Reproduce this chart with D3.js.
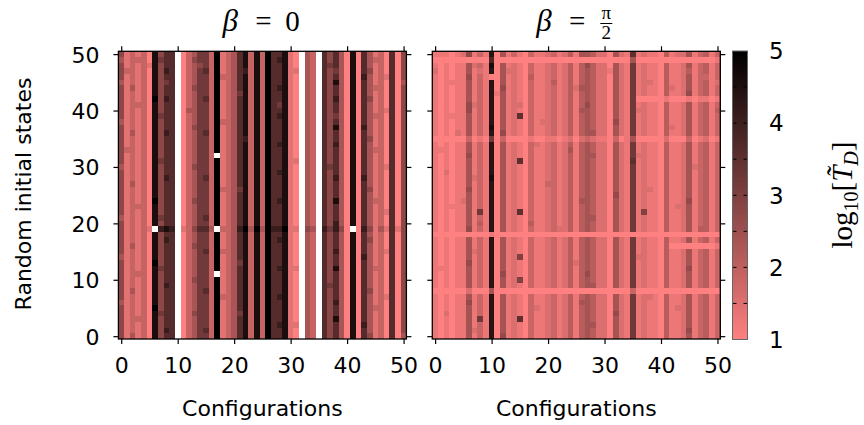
<!DOCTYPE html>
<html><head><meta charset="utf-8">
<script src="https://cdn.jsdelivr.net/npm/d3@7"></script>
<style>body{margin:0;background:#fff}svg{display:block}</style>
</head><body>
<script>
// ---------------- data ----------------
const configurations = d3.range(51);          // x categories 0..50
const initialStates = d3.range(51);           // y categories 0..50
const xTickValues = [0, 10, 20, 30, 40, 50];
const yTickValues = [0, 10, 20, 30, 40, 50];
const colorbarTicks = [1, 2, 3, 4, 5];
const panelTitles = ["0", "pi/2"];
// each char = level d (base 17 digit) -> log10 value 1 + d*step ; '.' = no value (white)
// rows listed from state 50 (top) down to state 0 (bottom); columns are configurations 0..50
const betaZeroStep = 4 / 9;
const betaZeroRows = [
"4121208466 .023552912 3682829668 10.32.6463 0806312060 4",
"3122208566 .024552912 3682829678 10.32.6463 0806322060 4",
"4121218466 .023452912 3682829668 10.32.6563 0806312060 4",
"4221208476 .023562912 3672829668 11.32.6453 0806412060 4",
"4121208466 .023552922 3682829668 10.32.6463 0807312160 4",
"3121208456 .023552912 3682829668 10.32.6483 0806312060 3",
"4131208466 .024552912 3682829678 10.32.6463 0806322060 4",
"4121208466 .023552912 3582829668 10.32.6463 0806312060 4",
"4121209476 .023562912 3682829668 10.32.6473 0806412060 4",
"4122208466 .023552912 3682829658 10.32.6463 0806312060 4",
"4121208466 .033552912 3682829668 10.32.6463 0806312160 4",
"4121208566 .023552912 3682829678 10.32.6453 0806322060 4",
"3121208466 .023552922 3682829668 10.32.6463 0806312060 4",
"4121208466 .024552912 3682829668 10.32.6483 0807312060 4",
"4131208476 .023562912 3682829668 10.32.6463 0806312060 4",
"4121208466 .023552912 3672829668 10.32.6463 0806412060 4",
"4121208466 .023552912 3682829678 10.32.6473 0806312060 4",
"4221208466 .023552912 3682829668 10.32.6463 0806322060 4",
"4121208466 .023552.12 3682829668 10.32.6463 0806312060 4",
"4121208566 .023552912 3682829668 11.32.6463 0806312060 4",
"3121208466 .024552912 3682829668 10.32.6563 0806312160 4",
"4121208466 .023552912 3682829678 10.32.6463 0806312060 4",
"4121208476 .023562912 3682829668 10.32.6473 0807312060 4",
"4131208466 .023552912 3682829668 10.32.6463 0806312060 4",
"4121208466 .023552922 3582829668 10.32.6463 0806412060 4",
"4121208466 .023552912 3682829668 10.32.6463 0806312060 4",
"4121209466 .024552912 3682829678 10.32.6483 0806322060 4",
"4122208466 .023552912 3682829668 10.32.6463 0806312060 4",
"4121208466 .023552912 3682829668 10.32.6463 0806312160 4",
"3121208566 .023562912 3682829668 10.32.6463 0806312060 4",
"4121208466 .023552912 3682829668 10.32.6473 0806312060 4",
"412121.787 .124663.22 3793939779 11.43.7574 0.07413161 4",
"4121208466 .023552912 3682829668 10.32.6463 0806312060 4",
"4121208476 .023552912 3682829678 10.32.6463 0806412060 4",
"4131208466 .024552912 3682829668 10.32.6463 0806312060 4",
"4121208466 .023562922 3682829668 10.32.6473 0806312160 4",
"3121208466 .023552912 3682829668 10.32.6463 0807312060 4",
"4121209466 .023552912 3582829668 10.32.6463 0806312060 4",
"4121208566 .023552912 3682829678 11.32.6483 0806322060 4",
"4122208466 .023552.12 3682829668 10.32.6463 0806312060 4",
"4121208466 .024552912 3682829668 10.32.6463 0806312060 4",
"4121208476 .023552912 3682829668 10.32.6563 0806312060 4",
"4131208466 .023562912 3682829668 10.32.6463 0806412060 4",
"4121208466 .023552922 3682829678 10.32.6463 0806312160 4",
"3121208466 .023552912 3682829668 10.32.6473 0806312060 4",
"4121209466 .023552912 3682829668 10.32.6463 0806322060 4",
"4121208566 .024552912 3582829668 10.32.6463 0806312060 4",
"4122208466 .023552912 3682829668 10.32.6483 0806312060 4",
"4121208466 .023552912 3682829678 11.32.6463 0807312060 4",
"4121208476 .023562912 3682829668 10.32.6463 0806312060 4",
"4131208466 .023552912 3682829668 10.32.6463 0806412060 3"
];
const betaHalfPiStep = 0.28;
const betaHalfPiRows = [
"1110126131 c051310311 2312415542 2052191211 0412251341 3",
"0000000000 a000000000 0000000000 0000050000 0000000000 1",
"1010115231 d051210311 2312414642 2052181211 0411251341 3",
"2010115121 c052210311 2312414542 2152181211 0411241341 3",
"1010116131 0051210411 2312414542 2052181211 0411251331 3",
"1011115131 c051210311 2412414542 2052181221 0411251341 2",
"1010115131 c061210311 2312425542 2052181211 0421251341 3",
"1010115131 c151210311 2312414542 2052181211 0411261341 3",
"1010115131 c051210311 2312414542 2052180000 0100010110 1",
"1010116231 c051220311 2312414642 2052181211 0411251341 3",
"1010116131 c051210311 2312415542 2052182211 0411251341 4",
"1011115131 c051290311 2312414542 2052181211 0411251341 3",
"1010115131 c051210312 2312414542 2062181211 0411251341 3",
"1010115131 d051210311 2312414542 2052181211 0421251341 3",
"1010215131 c061210311 2312414552 2052181211 0411251341 3",
"0000003010 8030000100 1101202321 1030150000 0200030120 1",
"1010115131 c051210321 2312414542 2052181211 0411251341 3",
"1110115131 c051210311 2312514542 2052181211 0411251341 3",
"1010116131 c051210311 2312414552 2052182211 0411251341 3",
"1010115131 c051290311 2312414542 2052191211 0411251341 3",
"1010115131 c051210311 2312414542 2052181211 0411252341 3",
"1020115131 c051210311 2312414542 2052181211 0411251341 3",
"1010115231 d051210311 2312414542 2052181211 0411251341 3",
"1010115131 c051210311 3312414542 2052181211 0411251341 3",
"1010116131 c051210311 2312414542 2052181221 0411251341 3",
"1010115131 c051210311 2312414542 2062181211 0411251341 3",
"1010125131 c051210311 2312415542 2052181211 0411261341 3",
"1011115131 c051210311 2312414542 2052181211 0412251341 3",
"1010115181 c051290311 2312414542 2052181711 0411251341 3",
"1010115131 c051210311 2312414552 2052181211 0411251341 3",
"1010115141 c051210411 2312414542 2052181211 0411251341 3",
"1010116131 c051210311 2322414542 2052181211 0411251441 3",
"0000000000 1000000000 0000000000 0000000000 0000000000 0",
"1010115131 c051210311 2312414542 2052181211 0411251341 3",
"1010115131 c051210311 2312414542 2052181211 0400000000 1",
"1010115231 c051210311 2312414542 2052181211 0411251341 3",
"1010115131 c051270311 2312414542 2052182211 0411251341 3",
"1010116131 c051210311 2312424542 2052181211 0411251341 3",
"1110115131 c051210311 2312414542 2052181211 0411261341 3",
"1010115131 c061210311 2312414642 2052181211 0411251341 3",
"1010115131 c051270311 2312414542 2052181211 0411251341 3",
"1010115131 c051210311 2312414552 2052181211 0411251341 3",
"0000002000 5000000000 0000000000 0000030000 0000000000 0",
"1010115131 c051210311 2312414542 2052181221 0411251341 3",
"1010116131 c051210311 2312415542 2052181211 0411251341 3",
"1010115131 c051210321 2312414542 2052181211 0412251341 3",
"1020115131 c051210311 2312414542 2062181211 0411251341 3",
"1010115181 c051290311 2312414542 2052181211 0411251341 3",
"1010115131 c051210311 2312414552 2052181211 0411251341 3",
"1010115231 c051210311 2312414542 2052181211 0411261341 3",
"1010115131 c061210311 2312414542 2052181211 0411251341 3"
];

// ---------------- drawing ----------------
(function () {
function parseGrid(rows, step) {
  const cells = [];
  rows.forEach((s, i) => {
    const chars = s.replace(/ /g, "").split("");
    const state = initialStates[initialStates.length - 1 - i];
    chars.forEach((ch, j) => {
      cells.push({conf: configurations[j], state: state,
                  v: ch === "." ? NaN : 1 + parseInt(ch, 17) * step});
    });
  });
  return cells;
}

const W = 864, H = 425;
const svg = d3.select("body").append("svg").attr("width", W).attr("height", H)
  .attr("font-family", "'DejaVu Sans', sans-serif");

const color = d3.scaleLinear().domain([1, 5]).range(["#ff8080", "#000000"])
  .interpolate(d3.interpolateRgb).clamp(true);

const plotTop = 51.3, plotBottom = 339;
const panels = [
  {x0: 118.4, x1: 406.4, rows: betaZeroRows, step: betaZeroStep, yLabels: true, title: panelTitles[0]},
  {x0: 432.3, x1: 720.3, rows: betaHalfPiRows, step: betaHalfPiStep, yLabels: false, title: panelTitles[1]}
];
const yScale = d3.scaleLinear().domain([-0.5, 50.5]).range([plotBottom, plotTop]);

panels.forEach(p => {
  const xScale = d3.scaleLinear().domain([-0.5, 50.5]).range([p.x0, p.x1]);
  const g = svg.append("g");
  const cells = parseGrid(p.rows, p.step);
  g.append("g").attr("shape-rendering", "crispEdges").selectAll("rect").data(cells).join("rect")
    .attr("x", d => xScale(d.conf - 0.5))
    .attr("y", d => yScale(d.state + 0.5))
    .attr("width", d => xScale(d.conf + 0.5) - xScale(d.conf - 0.5) + 0.4)
    .attr("height", d => yScale(d.state - 0.5) - yScale(d.state + 0.5) + 0.4)
    .attr("fill", d => isNaN(d.v) ? "#ffffff" : color(d.v));

  const tickLen = 5;
  const axB = g.append("g").attr("transform", `translate(0,${plotBottom})`)
    .call(d3.axisBottom(xScale).tickValues(xTickValues).tickSize(tickLen).tickSizeOuter(0).tickPadding(11));
  const axT = g.append("g").attr("transform", `translate(0,${plotTop})`)
    .call(d3.axisTop(xScale).tickValues(xTickValues).tickSize(tickLen).tickSizeOuter(0).tickFormat(""));
  const axL = g.append("g").attr("transform", `translate(${p.x0},0)`)
    .call(d3.axisLeft(yScale).tickValues(yTickValues).tickSize(tickLen).tickSizeOuter(0).tickPadding(14)
      .tickFormat(p.yLabels ? d3.format("d") : ""));
  const axR = g.append("g").attr("transform", `translate(${p.x1},0)`)
    .call(d3.axisRight(yScale).tickValues(yTickValues).tickSize(tickLen).tickSizeOuter(0).tickFormat(""));
  [axB, axT, axL, axR].forEach(a => {
    a.select(".domain").remove();
    a.selectAll("line").attr("stroke", "#000").attr("stroke-width", 1.2);
    a.selectAll("text").attr("font-size", 22).attr("font-family", "'DejaVu Sans', sans-serif").attr("fill", "#000");
  });
  axB.selectAll("text").attr("dy", "0.8em");
  axL.selectAll("text").attr("dy", "0.36em");

  g.append("rect").attr("x", p.x0).attr("y", plotTop).attr("width", p.x1 - p.x0).attr("height", plotBottom - plotTop)
    .attr("fill", "none").attr("stroke", "#000").attr("stroke-width", 1.3);

  g.append("text").attr("x", (p.x0 + p.x1) / 2).attr("y", 416).attr("text-anchor", "middle")
    .attr("font-size", 22).text("Configurations");

  const cx = (p.x0 + p.x1) / 2;
  const t = svg.append("g").attr("font-family", "'Liberation Serif', 'DejaVu Serif', serif").attr("fill", "#000");
  if (p.title === "0") {
    t.append("text").attr("x", cx - 40).attr("y", 31).attr("font-size", 31).attr("font-style", "italic").text("β");
    t.append("text").attr("x", cx + 1).attr("y", 31).attr("font-size", 29).attr("text-anchor", "middle").text("=");
    t.append("text").attr("x", cx + 30).attr("y", 31).attr("font-size", 29).attr("text-anchor", "middle").text("0");
  } else {
    t.append("text").attr("x", cx - 40).attr("y", 31).attr("font-size", 31).attr("font-style", "italic").text("β");
    t.append("text").attr("x", cx + 1).attr("y", 31).attr("font-size", 29).attr("text-anchor", "middle").text("=");
    t.append("text").attr("x", cx + 30).attr("y", 19).attr("font-size", 19).attr("text-anchor", "middle").text("π");
    t.append("line").attr("x1", cx + 24).attr("x2", cx + 36).attr("y1", 23.5).attr("y2", 23.5).attr("stroke", "#000").attr("stroke-width", 1);
    t.append("text").attr("x", cx + 30).attr("y", 39).attr("font-size", 19).attr("text-anchor", "middle").text("2");
  }
});

svg.append("text").attr("transform", "translate(31,194) rotate(-90)").attr("text-anchor", "middle")
  .attr("font-size", 22).text("Random initial states");

const cbX0 = 732.5, cbX1 = 747.5, cbTop = 51, cbBot = 339.5;
const cbScale = d3.scaleLinear().domain([1, 5]).range([cbBot, cbTop]);
const cbSteps = d3.range(1, 5, 0.02);
svg.append("g").attr("shape-rendering", "crispEdges").selectAll("rect").data(cbSteps).join("rect")
  .attr("x", cbX0).attr("width", cbX1 - cbX0)
  .attr("y", d => cbScale(d + 0.02)).attr("height", d => cbScale(d) - cbScale(d + 0.02) + 0.5)
  .attr("fill", d => color(d + 0.01));
const cbMinor = d3.range(1.5, 5, 0.5);
svg.append("g").selectAll("line").data(cbMinor).join("line")
  .attr("x1", cbX0).attr("x2", cbX0 + 4).attr("y1", d => cbScale(d)).attr("y2", d => cbScale(d))
  .attr("stroke", "#000").attr("stroke-width", 1);
svg.append("g").selectAll("line").data(cbMinor).join("line")
  .attr("x1", cbX1 - 4).attr("x2", cbX1).attr("y1", d => cbScale(d)).attr("y2", d => cbScale(d))
  .attr("stroke", "#000").attr("stroke-width", 1);
svg.append("rect").attr("x", cbX0).attr("y", cbTop).attr("width", cbX1 - cbX0).attr("height", cbBot - cbTop)
  .attr("fill", "none").attr("stroke", "#666").attr("stroke-width", 1);
svg.append("g").selectAll("text").data(colorbarTicks).join("text")
  .attr("x", 769).attr("y", d => cbScale(d)).attr("dy", "0.36em").attr("font-size", 23).text(d => d);

const lab = svg.append("text").attr("transform", "translate(852,195) rotate(-90)").attr("text-anchor", "middle")
  .attr("font-family", "'Liberation Serif', 'DejaVu Serif', serif").attr("font-size", 29);
lab.append("tspan").text("log");
lab.append("tspan").attr("font-size", 20).attr("dy", 6).text("10");
lab.append("tspan").attr("dy", -6).text("[");
lab.append("tspan").attr("font-style", "italic").text("T\u0303");
lab.append("tspan").attr("font-style", "italic").attr("font-size", 20).attr("dy", 6).text("D");
lab.append("tspan").attr("dy", -6).text("]");
})();
</script>
</body></html>
